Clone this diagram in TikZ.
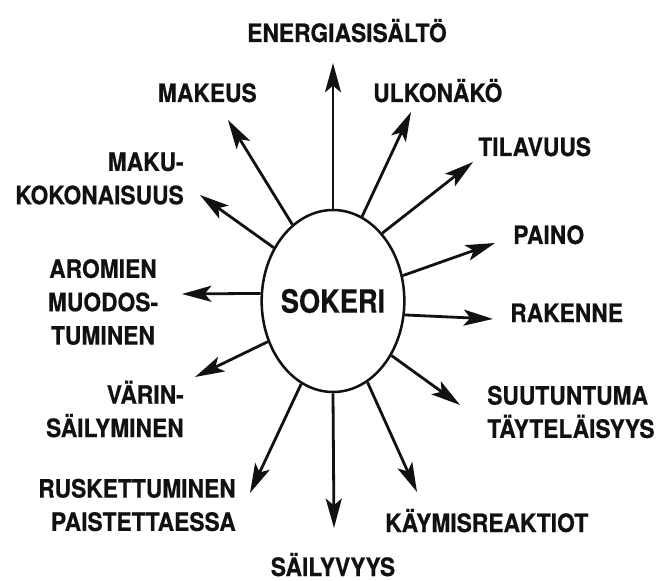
\documentclass[tikz,border=0pt]{standalone}
\usepackage{fontspec}
\setmainfont{TeX Gyre Heros}[FakeStretch=0.9, FakeBold=0.5]
\usetikzlibrary{arrows.meta,shapes.geometric}
\definecolor{SugarInk}{HTML}{111111}
\tikzset{
  every node/.style={font=\bfseries\fontsize{19}{25}\selectfont, text=SugarInk, inner sep=0pt},
  core/.style={ellipse, draw=SugarInk, line width=1.9pt, minimum width=107pt, minimum height=136.5pt},
  hub/.style={font=\bfseries\fontsize{24}{25}\selectfont\addfontfeature{FakeStretch=0.85}},
  effect/.style={-{Stealth[length=22pt,width=12pt,inset=5pt]}, draw=SugarInk, line width=2.1pt},
}

\begin{document}
\begin{tikzpicture}[x=0.75pt,y=-0.75pt]
  \useasboundingbox (0,0) rectangle (661,581);
  % Sugar in the middle
  \node[core] (sugar) at (333,301) {};
  \node[hub] (sugarText) at (sugar.center) {SOKERI};
  % Arrow tips
  \coordinate (tEnergy) at (333,63);
  \coordinate (tSweet) at (228,120);
  \coordinate (tLook) at (411,112);
  \coordinate (tVolume) at (473,162);
  \coordinate (tTaste) at (200,195);
  \coordinate (tWeight) at (495,243);
  \coordinate (tAroma) at (182,294);
  \coordinate (tTexture) at (493,319);
  \coordinate (tColour) at (195,377);
  \coordinate (tMouth) at (460,405);
  \coordinate (tBrown) at (250,493);
  \coordinate (tKeep) at (334,528);
  \coordinate (tFerment) at (417,492);
  % Effects, round the ellipse
  \draw[effect] (sugar.90) -- (tEnergy);
  \draw[effect] (sugar.118) -- (tSweet);
  \draw[effect] (sugar.71) -- (tLook);
  \draw[effect] (sugar.54.5) -- (tVolume);
  \draw[effect] (sugar.138) -- (tTaste);
  \draw[effect] (sugar.20) -- (tWeight);
  \draw[effect] (sugar.174) -- (tAroma);
  \draw[effect] (sugar.-11) -- (tTexture);
  \draw[effect] (sugar.212) -- (tColour);
  \draw[effect] (sugar.-43) -- (tMouth);
  \draw[effect] (sugar.249) -- (tBrown);
  \draw[effect] (sugar.270) -- (tKeep);
  \draw[effect] (sugar.293) -- (tFerment);
  % Labels
  \node[anchor=base west] (energy) at (247,42) {ENERGIASISÄLTÖ};
  \node[anchor=base east] (sweet) at (257,102) {MAKEUS};
  \node[anchor=base west] (look) at (373,102) {ULKONÄKÖ};
  \node[anchor=base west] (volume) at (478,156) {TILAVUUS};
  \node[anchor=east, align=right] (taste) at (184,178.5) {MAKU-\\KOKONAISUUS};
  \node[anchor=base west] (weight) at (513,244) {PAINO};
  \node[align=center] (aroma) at (103,302) {AROMIEN\\MUODOS-\\TUMINEN};
  \node[anchor=base west] (texture) at (510,322) {RAKENNE};
  \node[anchor=east, align=right] (colour) at (184,409) {VÄRIN-\\SÄILYMINEN};
  \node[anchor=west, align=left] (mouth) at (487,412) {SUUTUNTUMA\\TÄYTELÄISYYS};
  \node[anchor=east, align=right] (brown) at (236,505) {RUSKETTUMINEN\\PAISTETTAESSA};
  \node[anchor=base west] (ferment) at (385,532) {KÄYMISREAKTIOT};
  \node[anchor=base] (keep) at (333,576) {SÄILYVYYS};
\end{tikzpicture}
\end{document}
